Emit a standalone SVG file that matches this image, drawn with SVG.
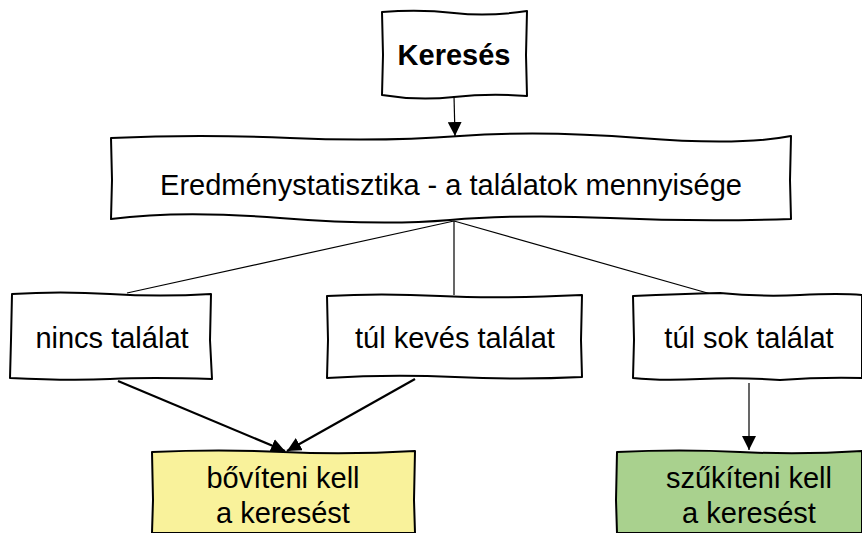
<svg xmlns="http://www.w3.org/2000/svg" width="862" height="533" viewBox="0 0 862 533">
<style>
.box{stroke:#000;stroke-width:2;stroke-linejoin:round}
.w{fill:#fff}
.y{fill:#f9f29b}
.g{fill:#a9d18e}
text{font-family:"Liberation Sans",Arial,sans-serif;font-size:29px;fill:#000;text-anchor:middle}
.b{font-weight:bold}
.c{fill:none;stroke:#000;stroke-width:1.2}
.t{fill:none;stroke:#000;stroke-width:2.2}
</style>
<defs>
<marker id="ah" viewBox="0 0 10 10" refX="10" refY="5" markerWidth="14" markerHeight="14" markerUnits="userSpaceOnUse" orient="auto"><path d="M0,0 L10,5 L0,10 z" fill="#000"/></marker>
</defs>
<rect width="862" height="533" fill="#fff"/>
<g id="connectors">
<path class="c" d="M454,96 L455,136" marker-end="url(#ah)"/>
<path class="c" d="M454,221 L127,293"/>
<path class="c" d="M454,221 L454,295"/>
<path class="c" d="M454,221 L718,296"/>
<path class="t" d="M118,381 L285,451" marker-end="url(#ah)"/>
<path class="t" d="M415,379 L287,451" marker-end="url(#ah)"/>
<path class="c" d="M749,383 L749,450" marker-end="url(#ah)"/>
</g>
<g id="n-kereses">
<path class="box w" d="M382,12 Q420,9 454,13 T527,11 L526,55 L527,96 Q490,93 454,97 T382,95 L383,55 Z"/>
<text class="b" x="454" y="65">Keresés</text>
</g>
<g id="n-eredmeny">
<path class="box w" d="M111,138 Q200,134 290,138 T460,136 T640,138 T791,136 L790,180 L791,219 Q700,222 610,218 T450,220 T280,218 T111,219 L112,180 Z"/>
<text x="451" y="195">Eredménystatisztika - a találatok mennyisége</text>
</g>
<g id="n-nincs">
<path class="box w" d="M12,294 Q60,291 110,294 T211,294 L210,340 L212,379 Q150,377 110,379 T10,378 L11,340 Z"/>
<text x="112" y="348">nincs találat</text>
</g>
<g id="n-keves">
<path class="box w" d="M327,296 Q380,293 440,296 T582,295 L581,340 L582,377 Q520,380 455,377 T327,378 L328,340 Z"/>
<text x="455" y="348">túl kevés találat</text>
</g>
<g id="n-sok">
<path class="box w" d="M633,296 Q680,294 720,293 Q760,297 800,295 T862,295 L862,378 Q820,377 780,380 Q740,377 700,379 T633,378 L634,340 Z"/>
<text x="749" y="348">túl sok találat</text>
</g>
<g id="n-bovit">
<path class="box y" d="M152,452 Q220,449 283,452 T415,451 L414,500 L415,533 L152,533 L153,500 Z"/>
<text x="283" y="488">bővíteni kell</text>
<text x="283" y="523">a keresést</text>
</g>
<g id="n-szukit">
<path class="box g" d="M617,452 Q680,449 740,452 T862,451 L862,533 L617,533 L616,500 Z"/>
<text x="749" y="488">szűkíteni kell</text>
<text x="749" y="523">a keresést</text>
</g>
</svg>
